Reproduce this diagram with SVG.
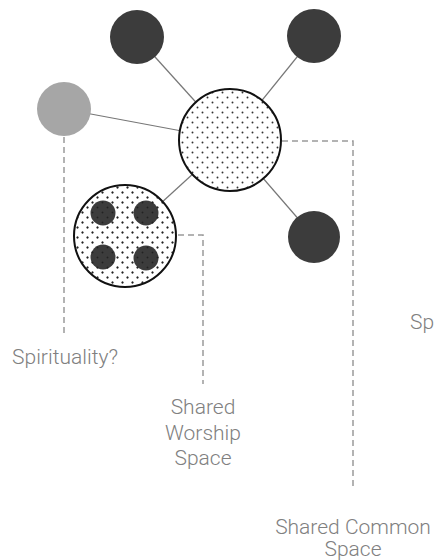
<svg xmlns="http://www.w3.org/2000/svg" width="434" height="560" viewBox="0 0 434 560">
<style>
.link{stroke:#777;stroke-width:1.2;fill:none}
.dash{stroke:#9a9a9a;stroke-width:1.5;fill:none;stroke-dasharray:6 4}
.dark{fill:#3c3c3c}
.grey{fill:#a6a6a6}
.hub{fill:url(#dots);stroke:#111;stroke-width:2}
.lbl{font-family:Roboto,"Liberation Sans",sans-serif;font-weight:300;font-size:21px;fill:#808080;text-anchor:middle}
</style>
<defs>
<pattern id="dots" width="10" height="10" patternUnits="userSpaceOnUse">
<rect width="10" height="10" fill="#fff"/>
<circle cx="2.5" cy="2.5" r="0.95" fill="#333"/>
<circle cx="7.5" cy="7.5" r="0.95" fill="#333"/>
</pattern>
<pattern id="dotsOnly" width="10" height="10" patternUnits="userSpaceOnUse">
<circle cx="2.5" cy="2.5" r="0.95" fill="#222"/>
<circle cx="7.5" cy="7.5" r="0.95" fill="#222"/>
</pattern>
</defs>
<g id="connectors">
<line class="link" x1="137" y1="37" x2="230" y2="140"/>
<line class="link" x1="314" y1="36" x2="230" y2="140"/>
<line class="link" x1="64" y1="109" x2="230" y2="140"/>
<line class="link" x1="314" y1="237" x2="230" y2="140"/>
<line class="link" x1="125" y1="236" x2="230" y2="140"/>
<line class="dash" x1="64" y1="137" x2="64" y2="334"/>
<polyline class="dash" points="178,235 203,235 203,384"/>
<polyline class="dash" points="282,141 353,141 353,490"/>
</g>
<g id="node-top-left"><circle class="dark" cx="137" cy="37" r="27"/></g>
<g id="node-top-right"><circle class="dark" cx="314" cy="36" r="27"/></g>
<g id="node-spirituality"><circle class="grey" cx="64" cy="109" r="27"/></g>
<g id="node-bottom-right"><circle class="dark" cx="314" cy="237" r="26"/></g>
<g id="node-common"><circle class="hub" cx="230" cy="140" r="51"/></g>
<g id="node-worship">
<circle class="hub" cx="125" cy="236" r="51"/>
<circle class="dark" cx="103" cy="213" r="12.5"/>
<circle class="dark" cx="146" cy="213" r="12.5"/>
<circle class="dark" cx="103" cy="257" r="12.5"/>
<circle class="dark" cx="146" cy="258" r="12.5"/>
<circle cx="125" cy="236" r="50" fill="url(#dotsOnly)"/>
</g>
<g id="labels">
<text class="lbl" x="65" y="364">Spirituality?</text>
<text class="lbl" x="203" y="414">Shared</text>
<text class="lbl" x="203" y="440">Worship</text>
<text class="lbl" x="203" y="465">Space</text>
<text class="lbl" x="353" y="534">Shared Common</text>
<text class="lbl" x="353" y="556">Space</text>
<text class="lbl" x="410" y="329" style="text-anchor:start">Sp</text>
</g>
</svg>
